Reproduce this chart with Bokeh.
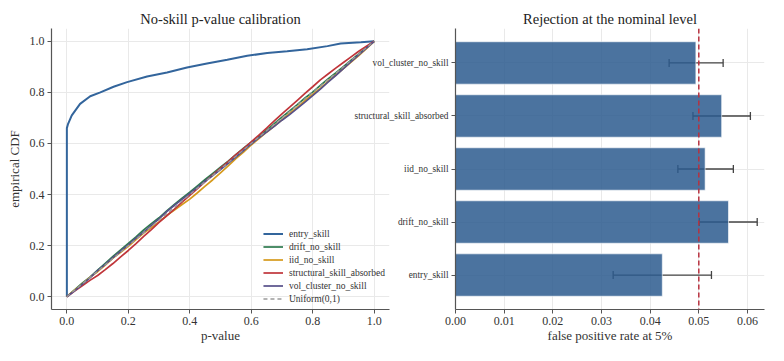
from bokeh.plotting import figure
from bokeh.layouts import row
from bokeh.models import (ColumnDataSource, Span, Whisker, TeeHead,
                          FixedTicker, NumeralTickFormatter, Range1d)
from bokeh.embed import file_html
from bokeh.resources import INLINE

FONT = "Liberation Serif"
TXT = "#333333"

# ---------------- left panel: ECDF of p-values ----------------
p_grid = [0, .025, .05, .075, .1, .125, .15, .175, .2, .225, .25, .275, .3, .325, .35,
          .375, .4, .425, .45, .475, .5, .525, .55, .575, .6, .625, .65, .675, .7, .725,
          .75, .775, .8, .825, .85, .875, .9, .925, .95, .975, 1.0]
drift_cdf = [0, .027, .053, .077, .104, .131, .158, .183, .209, .234, .262, .286, .309, .336,
             .361, .386, .409, .434, .459, .483, .507, .531, .556, .582, .605, .628, .652,
             .678, .703, .727, .752, .778, .801, .827, .853, .876, .901, .926, .951, .976, 1.0]
iid_cdf = [0, .026, .049, .076, .098, .124, .151, .174, .197, .224, .249, .271, .293, .318,
           .339, .361, .382, .407, .433, .458, .485, .512, .541, .566, .594, .619, .644,
           .668, .692, .718, .741, .768, .792, .816, .843, .868, .893, .918, .944, .971, 1.0]
struct_cdf = [0, .022, .043, .064, .083, .106, .130, .156, .181, .208, .236, .263, .291, .317,
              .343, .370, .397, .423, .451, .477, .503, .529, .556, .580, .606, .633, .660,
              .688, .716, .742, .769, .796, .822, .849, .872, .895, .917, .939, .961, .981, 1.0]
vol_cdf = [0, .023, .048, .074, .102, .127, .153, .178, .203, .229, .253, .279, .305, .333,
           .358, .381, .404, .428, .452, .474, .498, .522, .547, .572, .598, .622, .645,
           .667, .691, .713, .737, .762, .787, .813, .840, .866, .893, .920, .947, .973, 1.0]
entry_p = [0, 0.0, 0.004, 0.016, 0.043, 0.076, 0.109, 0.152, 0.196, 0.261, 0.326, 0.391,
           0.456, 0.522, 0.587, 0.652, 0.717, 0.782, 0.848, 0.891, 0.957, 1.0]
entry_cdf = [0, 0.66, 0.677, 0.71, 0.755, 0.785, 0.80, 0.822, 0.84, 0.862, 0.878, 0.897,
             0.913, 0.928, 0.943, 0.954, 0.961, 0.969, 0.981, 0.991, 0.996, 1.0]
uniform_p = [0.0, 1.0]

series_names = ["entry_skill", "drift_no_skill", "iid_no_skill",
                "structural_skill_absorbed", "vol_cluster_no_skill"]
series_colors = ["#33659c", "#2e7a4f", "#d69a1c", "#c0353a", "#57508a"]

# ---------------- right panel: rejection rates ----------------
scenarios = ["entry_skill", "drift_no_skill", "iid_no_skill",
             "structural_skill_absorbed", "vol_cluster_no_skill"]
fpr = [0.0425, 0.0561, 0.0513, 0.0547, 0.0494]
ci_lo = [0.0324, 0.0501, 0.0457, 0.0488, 0.0439]
ci_hi = [0.0526, 0.0620, 0.0571, 0.0606, 0.0550]
nominal = 0.05
x_ticks = [0.0, 0.01, 0.02, 0.03, 0.04, 0.05, 0.06]
cdf_ticks = [0.0, 0.2, 0.4, 0.6, 0.8, 1.0]


def style_fig(p, title):
    for ax in (p.xaxis, p.yaxis):
        ax.axis_line_color = "#555555"
        ax.axis_line_width = 1.2
        ax.major_tick_line_color = "#555555"
        ax.major_tick_in = 0
        ax.major_tick_out = 4
        ax.minor_tick_line_color = None
        ax.major_label_text_font = FONT
        ax.major_label_text_font_size = "12px"
        ax.major_label_text_color = TXT
        ax.major_label_standoff = 3
        ax.axis_label_text_font = FONT
        ax.axis_label_text_font_style = "normal"
        ax.axis_label_text_font_size = "13px"
        ax.axis_label_text_color = TXT
    p.xaxis.axis_label_standoff = 0
    p.outline_line_color = None
    p.grid.grid_line_color = "#e9e9e9"
    p.grid.grid_line_width = 1
    p.title.text = title
    p.title.align = "center"
    p.title.text_font = FONT
    p.title.text_font_size = "14.5px"
    p.title.text_font_style = "normal"
    p.title.text_color = "#222222"
    p.title.standoff = 3


W1, W2, OVER, H = 395, 423, 50, 345

# ---- left figure
p1 = figure(width=W1, height=H, x_range=Range1d(-0.05, 1.05), y_range=Range1d(-0.05, 1.05),
            output_backend="svg", toolbar_location=None,
            min_border_left=51, min_border_right=6, min_border_top=28, min_border_bottom=36)
style_fig(p1, "No-skill p-value calibration")
p1.xaxis.ticker = FixedTicker(ticks=cdf_ticks)
p1.yaxis.ticker = FixedTicker(ticks=cdf_ticks)
p1.xaxis.formatter = NumeralTickFormatter(format="0.0")
p1.yaxis.formatter = NumeralTickFormatter(format="0.0")
p1.xaxis.axis_label = "p-value"
p1.yaxis.axis_label = "empirical CDF"
p1.yaxis.axis_label_standoff = 5

curves = [(entry_p, entry_cdf), (p_grid, drift_cdf), (p_grid, iid_cdf),
          (p_grid, struct_cdf), (p_grid, vol_cdf)]
for (xs, ys), name, col in zip(curves, series_names, series_colors):
    p1.line(xs, ys, line_color=col, line_width=2 if name == "entry_skill" else 1.7,
            legend_label=name)
p1.line(uniform_p, uniform_p, line_color="#9a9a9a", line_width=1.3, line_dash="4 3",
        legend_label="Uniform(0,1)")

lg = p1.legend[0]
lg.location = "bottom_right"
lg.border_line_color = None
lg.background_fill_alpha = 0
lg.label_text_font = FONT
lg.label_text_font_size = "9.5px"
lg.label_text_color = TXT
lg.glyph_width = 20
lg.glyph_height = 13
lg.label_height = 13
lg.label_standoff = 6
lg.spacing = 0
lg.padding = 3
lg.margin = 4

# ---- right figure
x_end = 0.0635
p2 = figure(width=W2, height=H, x_range=Range1d(0, x_end), y_range=Range1d(-0.65, 4.65),
            output_backend="svg", toolbar_location=None,
            min_border_left=110, min_border_right=4, min_border_top=28, min_border_bottom=36,
            margin=(0, 0, 0, -OVER))
p2.border_fill_alpha = 0
style_fig(p2, "Rejection at the nominal level")
p2.yaxis.major_label_text_font_size = "9.3px"
p2.xaxis.ticker = FixedTicker(ticks=x_ticks)
p2.xaxis.formatter = NumeralTickFormatter(format="0.00")
p2.xaxis.axis_label = "false positive rate at 5%"
y_pos = list(range(len(scenarios)))
p2.yaxis.ticker = FixedTicker(ticks=y_pos)
p2.yaxis.major_label_overrides = {i: s for i, s in zip(y_pos, scenarios)}

src = ColumnDataSource(dict(y=y_pos, fpr=fpr, lo=ci_lo, hi=ci_hi))
p2.hbar(y="y", left=0, right="fpr", height=0.8, source=src,
        fill_color="#2c5a8e", fill_alpha=0.85, line_color="white", line_width=0.6)
p2.add_layout(Whisker(source=src, base="y", lower="lo", upper="hi", dimension="width",
                      line_color="#444444", line_width=1.3,
                      lower_head=TeeHead(size=8, line_color="#444444", line_width=1.3),
                      upper_head=TeeHead(size=8, line_color="#444444", line_width=1.3)))
p2.add_layout(Span(location=nominal, dimension="height", line_color="#b8313f",
                   line_width=1.5, line_dash="5 3"))

layout = row(p1, p2, spacing=0)
open("out.html", "w").write(file_html(layout, INLINE))
